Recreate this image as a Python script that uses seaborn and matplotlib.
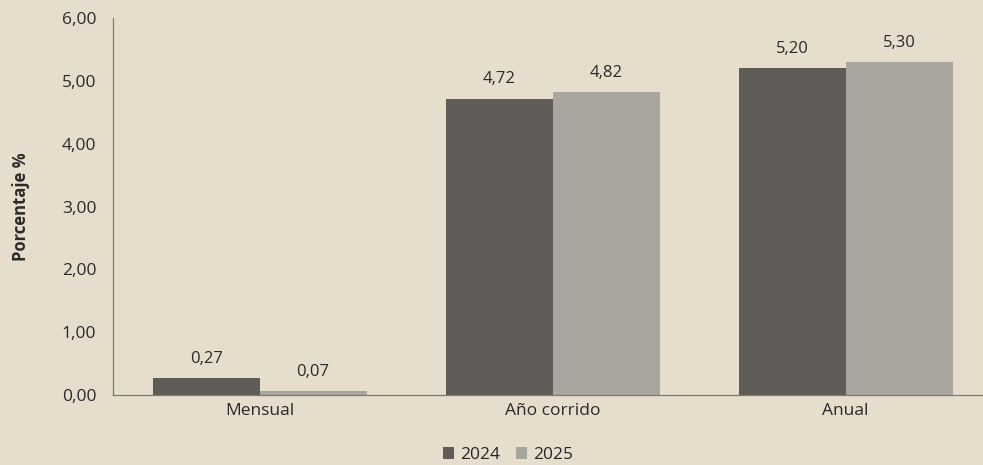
import pandas as pd
import matplotlib.pyplot as plt
import seaborn as sns

# Data
categorias = ["Mensual", "Año corrido", "Anual"]
valores_2024 = [0.27, 4.72, 5.20]
valores_2025 = [0.07, 4.82, 5.30]
anios = ["2024", "2025"]

df = pd.DataFrame({
    "categoria": categorias * 2,
    "anio": [anios[0]] * 3 + [anios[1]] * 3,
    "valor": valores_2024 + valores_2025,
})

fondo = "#e6ddcc"
colores = {"2024": "#5f5c57", "2025": "#a9a6a0"}

sns.set_theme(style="white")
plt.rcParams["font.family"] = ["Open Sans", "DejaVu Sans"]

fig = plt.figure(figsize=(9.83, 4.65), dpi=100, facecolor=fondo)
ax = fig.add_axes([0.115, 0.1505, 0.885, 0.8105])
ax.set_facecolor(fondo)

sns.barplot(data=df, x="categoria", y="valor", hue="anio", palette=colores,
            width=0.73, gap=0, ax=ax, saturation=1, legend=True, linewidth=0)

for cont in ax.containers:
    ax.bar_label(cont, labels=[f"{v:.2f}".replace(".", ",") for v in cont.datavalues],
                 padding=8, fontsize=12, color="#2a2a2a")

ax.set_ylim(0, 6)
ax.set_xlim(-0.5, 2.469)
ax.set_yticks([0, 1, 2, 3, 4, 5, 6])
ax.set_yticklabels([f"{t:.2f}".replace(".", ",") for t in range(7)], fontsize=12.5, color="#2a2a2a")
ax.tick_params(axis="x", labelsize=12.5, colors="#2a2a2a", length=0, pad=6)
ax.tick_params(axis="y", length=0, pad=12)
ax.set_xlabel("")
ax.set_ylabel("Porcentaje %", fontsize=12, fontweight="bold", color="#2a2a2a", labelpad=23)

for s in ["top", "right"]:
    ax.spines[s].set_visible(False)
ax.spines["left"].set_color("#7d7a74")
ax.spines["bottom"].set_color("#7d7a74")
ax.spines["left"].set_linewidth(0.9)
ax.spines["bottom"].set_linewidth(0.9)

ax.legend_.remove()
handles, labels = ax.get_legend_handles_labels()
fig.legend(handles, labels, loc="lower center", bbox_to_anchor=(0.517, -0.03), ncol=2,
           frameon=False, fontsize=12.5, handlelength=0.65, handleheight=0.65,
           handletextpad=0.35, columnspacing=0.9)

plt.savefig("out.png", dpi=100, facecolor=fondo)
plt.close()
